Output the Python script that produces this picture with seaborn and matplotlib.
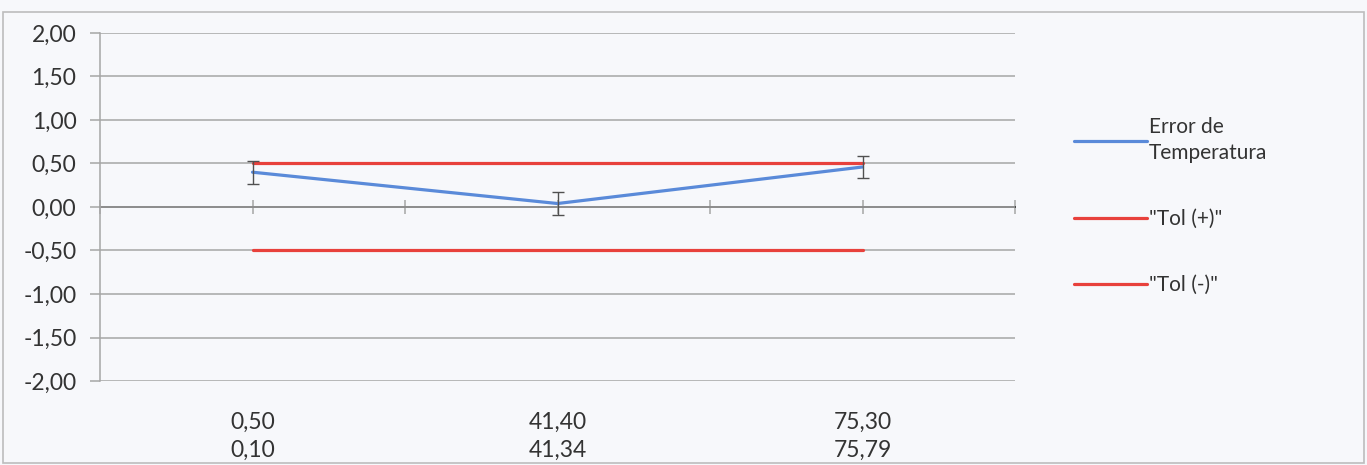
import numpy as np
import pandas as pd
import matplotlib
matplotlib.use("Agg")
import matplotlib.pyplot as plt
import seaborn as sns
from matplotlib.patches import Rectangle
from matplotlib.ticker import FuncFormatter, FixedLocator

# --- data ---
labels_top = ["0,50", "41,40", "75,30"]
labels_bottom = ["0,10", "41,34", "75,79"]
error_temp = [0.40, 0.04, 0.46]
error_unc = [0.13, 0.13, 0.13]
tol_pos = [0.50, 0.50, 0.50]
tol_neg = [-0.50, -0.50, -0.50]

sns.set_theme(style="white")
plt.rcParams['font.family'] = ['Lato', 'DejaVu Sans']

TEXT = '#333333'
GRID = '#A6A6A6'
BLUE = '#5A8AD9'
RED = '#E8413C'

df = pd.DataFrame({
    'pos': np.arange(len(labels_top)),
    'error': error_temp,
    'unc': error_unc,
    'tol_pos': tol_pos,
    'tol_neg': tol_neg,
})

fig = plt.figure(figsize=(13.67, 4.65), dpi=100)
fig.patch.set_facecolor('#F7F8FB')
ax = fig.add_axes([100 / 1367, 1 - 381 / 465, 915 / 1367, 348 / 465])
ax.set_facecolor('#F7F8FB')

sns.lineplot(data=df, x='pos', y='tol_pos', color=RED, lw=2.3, ax=ax,
             label='"Tol (+)"', zorder=3)
sns.lineplot(data=df, x='pos', y='tol_neg', color=RED, lw=2.3, ax=ax,
             label='"Tol (-)"', zorder=3)
sns.lineplot(data=df, x='pos', y='error', color=BLUE, lw=2.3, ax=ax,
             label='Error de\nTemperatura', zorder=4)
ax.errorbar(df['pos'], df['error'], yerr=df['unc'], fmt='none',
            ecolor='#505050', elinewidth=1.0, capsize=4, capthick=1.0, zorder=5)

# axes ranges and gridlines, Excel style
ax.set_xlim(-0.5, len(labels_top) - 0.5)
ax.set_ylim(-2, 2)
ax.yaxis.set_major_locator(FixedLocator(np.arange(-2, 2.01, 0.5)))
ax.yaxis.set_major_formatter(FuncFormatter(lambda v, p: f"{v:.2f}".replace('.', ',')))
ax.grid(axis='y', color=GRID, lw=1.1)
ax.grid(axis='x', visible=False)
for s in ['top', 'right', 'bottom']:
    ax.spines[s].set_visible(False)
ax.spines['left'].set_color(GRID)
ax.spines['left'].set_linewidth(1.1)

ax.set_xticks(df['pos'])
ax.set_xticklabels([f"{a}\n{b}" for a, b in zip(labels_top, labels_bottom)],
                   linespacing=1.45)
ax.tick_params(axis='x', length=0, pad=22, labelsize=16.5, labelcolor=TEXT)
ax.tick_params(axis='y', length=7, width=1.1, color=GRID, pad=10,
               labelsize=16.5, labelcolor=TEXT, left=True)
ax.set_xlabel('')
ax.set_ylabel('')

# horizontal axis line crossing at zero, with tick marks
zero_ax = ax.secondary_xaxis(0.5)
zero_ax.set_xticks(np.arange(-0.5, len(labels_top), 0.5))
zero_ax.tick_params(axis='x', direction='inout', length=10, width=1.1,
                    color=GRID, labelbottom=False, labeltop=False)
zero_ax.set_xticklabels([])
zero_ax.spines['bottom'].set_color(GRID)
zero_ax.spines['bottom'].set_linewidth(1.1)

# legend on the right
handles, lbls = ax.get_legend_handles_labels()
order = [2, 0, 1]
leg = ax.legend([handles[i] for i in order], [lbls[i] for i in order],
                loc='upper left', bbox_to_anchor=(1055 / 1367, 1 - 98 / 465),
                bbox_transform=fig.transFigure, frameon=False, fontsize=15,
                handlelength=3.5, handletextpad=0.1, labelspacing=2.2)
for t in leg.get_texts():
    t.set_color(TEXT)
    t.set_linespacing(1.4)

# outer chart border
fig.patches.append(Rectangle((3 / 1367, 2 / 465), 1361 / 1367, 451 / 465,
                             transform=fig.transFigure, fill=False,
                             ec='#BDBDBD', lw=1.2))

fig.savefig('out.png', dpi=100, facecolor=fig.get_facecolor())
